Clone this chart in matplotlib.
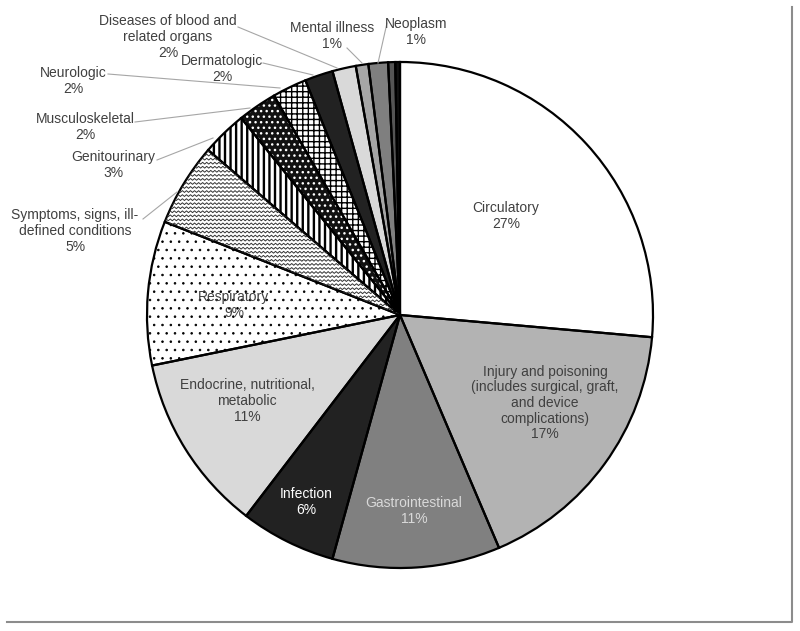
import numpy as np
import matplotlib
matplotlib.use("Agg")
import matplotlib.pyplot as plt
from matplotlib.collections import LineCollection
from matplotlib.lines import Line2D

plt.rcParams['font.family'] = ['Liberation Sans', 'DejaVu Sans']

# slices clockwise from 12 o'clock, shares
categories = ["Circulatory",
              "Injury and poisoning\n(includes surgical, graft,\nand device\ncomplications)",
              "Gastrointestinal", "Infection",
              "Endocrine, nutritional,\nmetabolic", "Respiratory",
              "Symptoms, signs, ill-\ndefined conditions", "Genitourinary",
              "Musculoskeletal", "Neurologic", "Dermatologic",
              "Diseases of blood and\nrelated organs", "Mental illness", "Neoplasm",
              "", ""]
shares = [26.4, 17.2, 10.7, 6.1, 11.4, 9.2, 5.3, 2.9, 2.5, 2.2, 1.8, 1.5, 0.8, 1.25, 0.45, 0.3]
pct_text = ["27%", "17%", "11%", "6%", "11%", "9%", "5%", "3%", "2%", "2%", "2%", "2%", "1%", "1%", "", ""]

fills = ["white", "#b3b3b3", "#808080", "#222222", "#d9d9d9", "white", "white", "white",
         "#111111", "white", "#222222", "#d9d9d9", "#a6a6a6", "#7f7f7f", "#555555", "#111111"]
hatches = [None, None, None, None, None, "..", None, "|||", "...", "+++", None, None, None, None, None, None]
hatch_lw = {5: 0.6, 7: 1.7, 8: 1.0, 9: 1.0}
hatch_col = ["black"] * 16
hatch_col[8] = "white"

# pixel geometry of the pie in the 800x631 picture
CX, CY, R = 400.0, 315.0, 253.0

def px(x, y):
    return ((x - CX) / R, (CY - y) / R)

fig = plt.figure(figsize=(8, 6.31), dpi=100)
ax = fig.add_axes([0, 0, 1, 1])

wedges, _ = ax.pie(shares, startangle=90, counterclock=False, radius=1, center=(0, 0),
                   colors=fills, wedgeprops=dict(linewidth=0))
for i, w in enumerate(wedges):
    w.set_edgecolor(hatch_col[i])
    if hatches[i]:
        w.set_hatch(hatches[i])
        if hasattr(w, "set_hatch_linewidth"):
            w.set_hatch_linewidth(hatch_lw[i])

# zigzag texture on the symptoms slice
rows = []
for yy in np.arange(-0.2, 1.1, 0.016):
    xs = np.arange(-1.1, 0.05, 0.008)
    ys = yy + 0.0035 * np.where(np.arange(len(xs)) % 2 == 0, 1, -1)
    rows.append(np.column_stack([xs, ys]))
zz = LineCollection(rows, colors="#333333", linewidths=0.7)
ax.add_collection(zz)
zz.set_clip_path(wedges[6])

# black outlines on top
ax.pie(shares, startangle=90, counterclock=False, radius=1, center=(0, 0),
       wedgeprops=dict(fill=False, edgecolor="black", linewidth=1.6))

txt = "#404040"
inside = {0: (506, 216, txt), 1: (545, 403, txt), 2: (414, 511, "#d9d9d9"),
          3: (306, 502, "white"), 4: (247, 401, txt), 5: (234, 305, txt)}
for i, (x, y, c) in inside.items():
    ax.text(*px(x, y), categories[i] + "\n" + pct_text[i], ha="center", va="center",
            fontsize=10, color=c, linespacing=1.15)

# outside labels: label centre, leader start, leader end
outside = {6: ((75, 231), (143, 219), (177, 192)),
           7: ((113, 165), (157, 160), (213, 138)),
           8: ((85, 127), (135, 122), (250, 108)),
           9: ((73, 81), (108, 74), (280, 88)),
           10: ((222, 69), (263, 63), (313, 75)),
           11: ((168, 37), (238, 27), (337, 68)),
           12: ((332, 36), (347, 48), (362, 63)),
           13: ((416, 32), (387, 23), (378, 63))}
for i, (lab, a, b) in outside.items():
    ax.text(*px(*lab), categories[i] + "\n" + pct_text[i], ha="center", va="center",
            fontsize=10, color=txt, linespacing=1.15)
    p0, p1 = px(*a), px(*b)
    ax.plot([p0[0], p1[0]], [p0[1], p1[1]], color="#a6a6a6", linewidth=0.8)

ax.set_xlim(-CX / R, (800 - CX) / R)
ax.set_ylim(-(631 - CY) / R, CY / R)
ax.set_aspect("equal", adjustable="box")
ax.axis("off")

# chart area frame (only right and bottom edges visible)
fig.add_artist(Line2D([7 / 800, 792 / 800, 792 / 800], [1 - 622 / 631, 1 - 622 / 631, 1 - 7 / 631],
                      transform=fig.transFigure, color="#8c8c8c", linewidth=1.5))

fig.savefig("out.png", dpi=100)
